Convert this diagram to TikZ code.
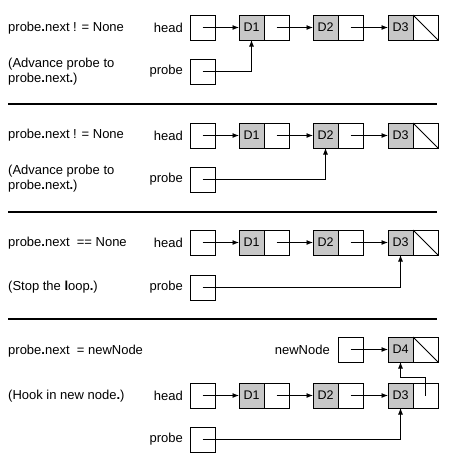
\documentclass[tikz,border=0pt]{standalone}
\usepackage{fontspec}
\setmainfont{Liberation Sans}
\usetikzlibrary{arrows.meta}
\definecolor{boxgray}{gray}{0.78}
\newcommand\llrow[2]{%
  \node[lbl] (#1hl) at (183,#2) {head};
  \node[cell] (#1h) at (202.5,#2) {};
  \node[dcell] (#1d1) at (251.5,#2) {D1};
  \node[cell] (#1n1) at (276.5,#2) {};
  \node[dcell] (#1d2) at (325.5,#2) {D2};
  \node[cell] (#1n2) at (350.5,#2) {};
  \node[dcell] (#1d3) at (400.5,#2) {D3};
  \node[cell] (#1n3) at (425.5,#2) {};
  \draw[ptr] (#1h.center) -- (#1d1.west);
  \draw[ptr] (#1n1.center) -- (#1d2.west);
  \draw[ptr] (#1n2.center) -- (#1d3.west);
}
\newcommand\probebox[2]{%
  \node[lbl] (#1pl) at (183,#2) {probe};
  \node[cell] (#1p) at (202.5,#2) {};
}
\begin{document}
\begin{tikzpicture}[x=1pt,y=-1pt,
  cell/.style={draw, line width=1pt, minimum width=25pt, minimum height=25pt,
    inner sep=0pt, outer sep=0pt, font=\fontsize{12.5}{14}\selectfont},
  dcell/.style={cell, fill=boxgray},
  lbl/.style={anchor=east, inner sep=0pt, font=\fontsize{13}{15}\selectfont},
  txt/.style={anchor=west, inner sep=0pt, align=left, font=\fontsize{13}{15}\selectfont},
  ptr/.style={line width=0.9pt, -{Latex[length=6.5pt,width=5pt]}},
  nullp/.style={line width=1pt},
  sep/.style={line width=1.3pt}]
\useasboundingbox (0,0) rectangle (451,461);

% ---------- Panel 1 ----------
\node[txt] (t1a) at (8,28) {probe\textbf{.}next ! = None};
\node[txt] (t1b) at (8,71.5) {(Advance probe to\\probe\textbf{.}next\textbf{.})};
\llrow{a}{27.5}
\draw[nullp] (an3.north west) -- (an3.south east);
\probebox{a}{71.5}
\draw[ptr] (ap.center) -| (ad1.south);
\coordinate (s1l) at (8,104); \coordinate (s1r) at (437,104);
\draw[sep] (s1l) -- (s1r);

% ---------- Panel 2 ----------
\node[txt] (t2a) at (8,135.5) {probe\textbf{.}next ! = None};
\node[txt] (t2b) at (8,178.5) {(Advance probe to\\probe\textbf{.}next\textbf{.})};
\llrow{b}{135.5}
\draw[nullp] (bn3.north west) -- (bn3.south east);
\probebox{b}{179.5}
\draw[ptr] (bp.center) -| (bd2.south);
\coordinate (s2l) at (8,212); \coordinate (s2r) at (437,212);
\draw[sep] (s2l) -- (s2r);

% ---------- Panel 3 ----------
\node[txt] (t3a) at (8,243.5) {probe\textbf{.}next\ \ == None};
\node[txt] (t3b) at (8,287.5) {(Stop the \textbf{l}oop\textbf{.})};
\llrow{c}{242.5}
\draw[nullp] (cn3.north west) -- (cn3.south east);
\probebox{c}{287.5}
\draw[ptr] (cp.center) -| (cd3.south);
\coordinate (s3l) at (8,319); \coordinate (s3r) at (437,319);
\draw[sep] (s3l) -- (s3r);

% ---------- Panel 4 ----------
\node[txt] (t4a) at (8,351) {probe\textbf{.}next\ \ = newNode};
\node[txt] (t4b) at (8,396) {(Hook in new node\textbf{.})};
\node[lbl] (nnl) at (330,349.5) {newNode};
\node[cell] (nn) at (350.5,349.5) {};
\node[dcell] (d4) at (400.5,349.5) {D4};
\node[cell] (n4) at (425.5,349.5) {};
\draw[nullp] (n4.north west) -- (n4.south east);
\draw[ptr] (nn.center) -- (d4.west);
\llrow{d}{395.5}
\coordinate (hk) at (425.5,377);
\draw[ptr] (dn3.center) -- (hk) -| (d4.south);
\probebox{d}{439.5}
\draw[ptr] (dp.center) -| (dd3.south);
\end{tikzpicture}
\end{document}
